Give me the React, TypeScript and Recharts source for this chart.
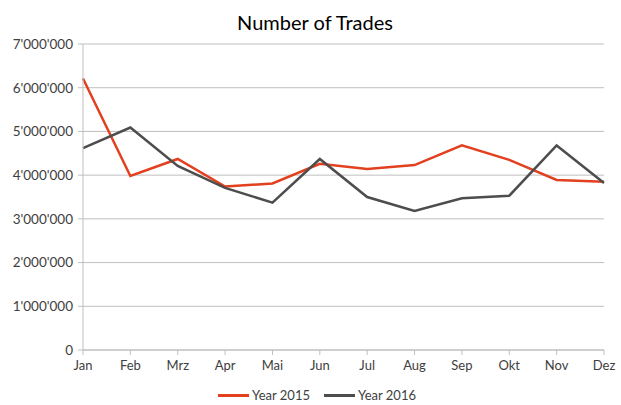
import { LineChart, Line, XAxis, YAxis, CartesianGrid, Legend } from "recharts";

const months = ["Jan", "Feb", "Mrz", "Apr", "Mai", "Jun", "Jul", "Aug", "Sep", "Okt", "Nov", "Dez"];
const year2015 = [6210000, 3980000, 4370000, 3740000, 3810000, 4260000, 4140000, 4230000, 4680000, 4350000, 3890000, 3850000];
const year2016 = [4620000, 5090000, 4210000, 3710000, 3370000, 4370000, 3500000, 3180000, 3470000, 3530000, 4680000, 3820000];
const yTicks = [0, 1000000, 2000000, 3000000, 4000000, 5000000, 6000000, 7000000];

const chartData = months.map((m, i) => ({
  month: m,
  y2015: year2015[i],
  y2016: year2016[i],
}));

const font = "Lato, 'Open Sans', sans-serif";

const fmt = (v: number) => String(v).replace(/\B(?=(\d{3})+(?!\d))/g, "'");

function LegendContent() {
  const items = [
    { label: "Year 2015", color: "#e2401f" },
    { label: "Year 2016", color: "#4d4d4d" },
  ];
  return (
    <div
      style={{
        display: "flex",
        justifyContent: "center",
        alignItems: "flex-end",
        height: 30,
        gap: 14,
        paddingLeft: 30,
        fontFamily: font,
        fontSize: 13,
        lineHeight: "16px",
        color: "#404040",
      }}
    >
      {items.map((it) => (
        <div key={it.label} style={{ display: "flex", alignItems: "center", marginBottom: 2 }}>
          <span style={{ display: "inline-block", width: 31, height: 3, background: it.color, marginRight: 3 }} />
          <span>{it.label}</span>
        </div>
      ))}
    </div>
  );
}

export default function App() {
  return (
    <div style={{ position: "absolute", left: 0, top: 0, width: 621, height: 405, background: "#fff" }}>
      <div
        style={{
          position: "absolute",
          top: 10,
          left: 0,
          width: 630,
          textAlign: "center",
          fontFamily: font,
          fontSize: 20,
          color: "#000",
        }}
      >
        Number of Trades
      </div>
      <LineChart width={621} height={405} data={chartData} margin={{ top: 44, right: 17, left: 0, bottom: 0 }}>
        <CartesianGrid vertical={false} stroke="#bfbfbf" strokeWidth={1} />
        <XAxis
          dataKey="month"
          height={25}
          interval={0}
          stroke="#bfbfbf"
          tickSize={5}
          tickMargin={6}
          tick={{ fill: "#404040", fontSize: 13, fontFamily: font }}
        />
        <YAxis
          width={83}
          domain={[0, 7000000]}
          ticks={yTicks}
          tickFormatter={fmt}
          stroke="#bfbfbf"
          tickSize={5}
          tickMargin={5}
          tick={{ fill: "#404040", fontSize: 13.5, fontFamily: font }}
        />
        <Legend verticalAlign="bottom" height={30} content={<LegendContent />} />
        <Line dataKey="y2015" name="Year 2015" stroke="#e2401f" strokeWidth={2.5} dot={false} isAnimationActive={false} />
        <Line dataKey="y2016" name="Year 2016" stroke="#4d4d4d" strokeWidth={2.5} dot={false} isAnimationActive={false} />
      </LineChart>
    </div>
  );
}
